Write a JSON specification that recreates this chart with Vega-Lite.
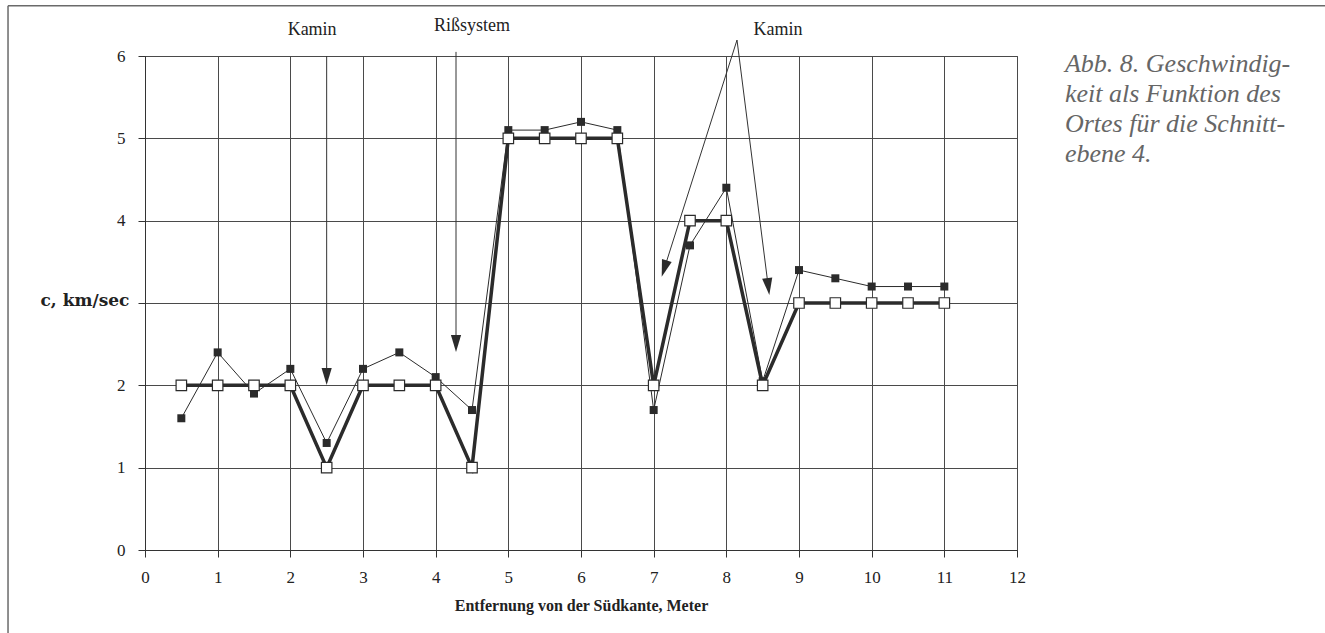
{
  "$schema": "https://vega.github.io/schema/vega-lite/v6.json",
  "autosize": {"type": "none"},
  "width": 872,
  "height": 494,
  "padding": {"left": 145, "top": 56, "right": 308, "bottom": 83},
  "background": "white",
  "config": {
    "view": {"stroke": "#4a4a4a", "strokeWidth": 1},
    "font": "Liberation Serif"
  },
  "datasets": {
    "messung": [
      {"x": 0.5, "y": 1.6, "reihe": "A"}, {"x": 1, "y": 2.4, "reihe": "A"}, {"x": 1.5, "y": 1.9, "reihe": "A"},
      {"x": 2, "y": 2.2, "reihe": "A"}, {"x": 2.5, "y": 1.3, "reihe": "A"}, {"x": 3, "y": 2.2, "reihe": "A"},
      {"x": 3.5, "y": 2.4, "reihe": "A"}, {"x": 4, "y": 2.1, "reihe": "A"}, {"x": 4.5, "y": 1.7, "reihe": "A"},
      {"x": 5, "y": 5.1, "reihe": "A"}, {"x": 5.5, "y": 5.1, "reihe": "A"}, {"x": 6, "y": 5.2, "reihe": "A"},
      {"x": 6.5, "y": 5.1, "reihe": "A"}, {"x": 7, "y": 1.7, "reihe": "A"}, {"x": 7.5, "y": 3.7, "reihe": "A"},
      {"x": 8, "y": 4.4, "reihe": "A"}, {"x": 8.5, "y": 2.05, "reihe": "A"}, {"x": 9, "y": 3.4, "reihe": "A"},
      {"x": 9.5, "y": 3.3, "reihe": "A"}, {"x": 10, "y": 3.2, "reihe": "A"}, {"x": 10.5, "y": 3.2, "reihe": "A"},
      {"x": 11, "y": 3.2, "reihe": "A"},
      {"x": 0.5, "y": 2, "reihe": "B"}, {"x": 1, "y": 2, "reihe": "B"}, {"x": 1.5, "y": 2, "reihe": "B"},
      {"x": 2, "y": 2, "reihe": "B"}, {"x": 2.5, "y": 1, "reihe": "B"}, {"x": 3, "y": 2, "reihe": "B"},
      {"x": 3.5, "y": 2, "reihe": "B"}, {"x": 4, "y": 2, "reihe": "B"}, {"x": 4.5, "y": 1, "reihe": "B"},
      {"x": 5, "y": 5, "reihe": "B"}, {"x": 5.5, "y": 5, "reihe": "B"}, {"x": 6, "y": 5, "reihe": "B"},
      {"x": 6.5, "y": 5, "reihe": "B"}, {"x": 7, "y": 2, "reihe": "B"}, {"x": 7.5, "y": 4, "reihe": "B"},
      {"x": 8, "y": 4, "reihe": "B"}, {"x": 8.5, "y": 2, "reihe": "B"}, {"x": 9, "y": 3, "reihe": "B"},
      {"x": 9.5, "y": 3, "reihe": "B"}, {"x": 10, "y": 3, "reihe": "B"}, {"x": 10.5, "y": 3, "reihe": "B"},
      {"x": 11, "y": 3, "reihe": "B"}
    ],
    "rahmen": [
      {"x": -1.885, "y": 6.61, "x2": -1.885, "y2": -1.2},
      {"x": -1.885, "y": 6.61, "x2": 16.3, "y2": 6.61}
    ],
    "pfeile": [
      {"x": 2.5, "y": 6.0, "x2": 2.5, "y2": 2.11},
      {"x": 4.28, "y": 6.05, "x2": 4.28, "y2": 2.51},
      {"x": 8.147, "y": 6.194, "x2": 7.146, "y2": 3.418},
      {"x": 8.147, "y": 6.194, "x2": 8.577, "y2": 3.199}
    ],
    "spitzen": [
      {"x": 2.5, "y": 2.107, "winkel": 0},
      {"x": 4.28, "y": 2.508, "winkel": 0},
      {"x": 7.146, "y": 3.418, "winkel": 17.6},
      {"x": 8.577, "y": 3.199, "winkel": -7.2}
    ],
    "beschriftung": [
      {"x": 2.3, "y": 6.255, "text": "Kamin"},
      {"x": 4.5, "y": 6.3, "text": "Rißsystem"},
      {"x": 8.71, "y": 6.255, "text": "Kamin"}
    ],
    "legende": [
      {"x": 12.66, "y": 5.806, "text": "Abb. 8. Geschwindig-\nkeit als Funktion des\nOrtes für die Schnitt-\nebene 4."}
    ]
  },
  "encoding": {
    "x": {
      "field": "x", "type": "quantitative",
      "scale": {"domain": [0, 12], "nice": false, "zero": false},
      "axis": {
        "values": [0, 1, 2, 3, 4, 5, 6, 7, 8, 9, 10, 11, 12],
        "grid": true, "gridColor": "#4a4a4a", "gridOpacity": 1, "gridWidth": 1,
        "domainColor": "#333333", "tickColor": "#333333", "tickSize": 7,
        "labelFont": "Liberation Serif", "labelFontSize": 17, "labelColor": "#222222", "labelPadding": 12,
        "labelFlush": false,
        "title": "Entfernung von der Südkante, Meter",
        "titleFont": "Liberation Serif", "titleFontSize": 16, "titleFontWeight": "bold",
        "titleColor": "#222222", "titlePadding": 12
      }
    },
    "y": {
      "field": "y", "type": "quantitative",
      "scale": {"domain": [0, 6], "nice": false, "zero": false},
      "axis": {
        "values": [0, 1, 2, 3, 4, 5, 6],
        "labelExpr": "datum.value == 3 ? '' : datum.label",
        "grid": true, "gridColor": "#4a4a4a", "gridOpacity": 1, "gridWidth": 1,
        "domainColor": "#333333", "tickColor": "#333333", "tickSize": 7,
        "labelFont": "Liberation Serif", "labelFontSize": 17, "labelColor": "#222222", "labelPadding": 13,
        "title": "c, km/sec",
        "titleFont": "DejaVu Serif", "titleFontSize": 17, "titleFontWeight": "bold", "titleColor": "#222222",
        "titleAngle": 0, "titleAlign": "left", "titleBaseline": "middle",
        "titleX": -105, "titleY": 244
      }
    }
  },
  "layer": [
    {
      "data": {"name": "rahmen"},
      "mark": {"type": "rule", "color": "#6a6a6a", "strokeWidth": 1.5},
      "encoding": {"x2": {"field": "x2"}, "y2": {"field": "y2"}}
    },
    {
      "data": {"name": "pfeile"},
      "mark": {"type": "rule", "color": "#333333", "strokeWidth": 1},
      "encoding": {"x2": {"field": "x2"}, "y2": {"field": "y2"}}
    },
    {
      "data": {"name": "spitzen"},
      "mark": {"type": "point", "shape": "M-0.6,-1L0.6,-1L0,1Z", "filled": true, "color": "#2b2b2b", "size": 289, "opacity": 1},
      "encoding": {"angle": {"field": "winkel", "type": "quantitative", "scale": null}}
    },
    {
      "data": {"name": "messung"},
      "transform": [{"filter": "datum.reihe == 'A'"}],
      "mark": {"type": "line", "color": "#2b2b2b", "strokeWidth": 1}
    },
    {
      "data": {"name": "messung"},
      "transform": [{"filter": "datum.reihe == 'B'"}],
      "mark": {"type": "line", "color": "#2b2b2b", "strokeWidth": 3.5}
    },
    {
      "data": {"name": "messung"},
      "transform": [{"filter": "datum.reihe == 'A'"}],
      "mark": {"type": "point", "shape": "square", "filled": true, "color": "#2b2b2b", "size": 64, "opacity": 1}
    },
    {
      "data": {"name": "messung"},
      "transform": [{"filter": "datum.reihe == 'B'"}],
      "mark": {"type": "point", "shape": "square", "filled": true, "fill": "white", "stroke": "#2b2b2b", "strokeWidth": 1.2, "size": 110, "opacity": 1}
    },
    {
      "data": {"name": "beschriftung"},
      "mark": {"type": "text", "font": "Liberation Serif", "fontSize": 18, "color": "#222222", "align": "center", "baseline": "alphabetic"},
      "encoding": {"text": {"field": "text"}}
    },
    {
      "data": {"name": "legende"},
      "mark": {"type": "text", "font": "Liberation Serif", "fontStyle": "italic", "fontSize": 26, "lineHeight": 30, "lineBreak": "\n", "color": "#666666", "align": "left", "baseline": "alphabetic"},
      "encoding": {"text": {"field": "text"}}
    }
  ]
}
